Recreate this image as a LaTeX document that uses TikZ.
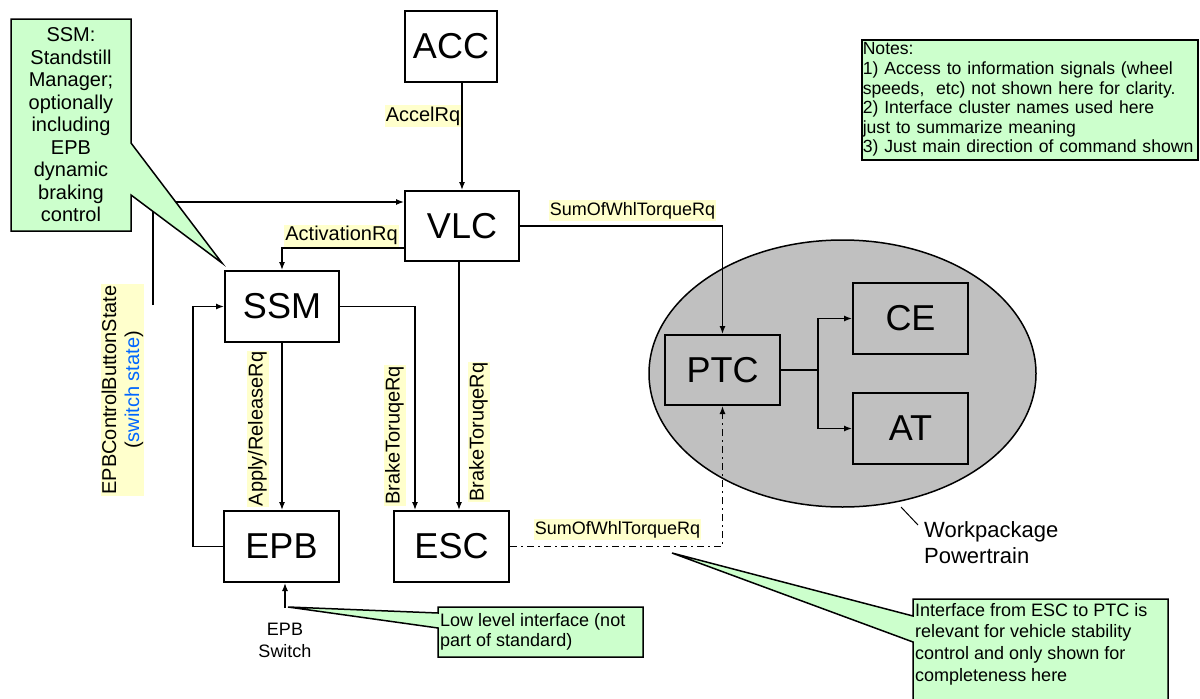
\documentclass[tikz,border=0pt]{standalone}
\usepackage{fontspec}
\setmainfont{Liberation Sans}
\usetikzlibrary{arrows.meta,shapes.geometric}
\definecolor{calloutgreen}{RGB}{204,255,204}
\definecolor{labelyellow}{RGB}{255,255,204}
\definecolor{wpgray}{RGB}{192,192,192}
\definecolor{switchblue}{RGB}{0,102,255}
\tikzset{
  blockbox/.style={draw=black, line width=2pt, fill=white, inner sep=0pt,
    minimum width=115pt, minimum height=71pt, font=\fontsize{36}{40}\selectfont},
  arr/.style={line width=1.3pt, -{Latex[length=8pt,width=6pt]}},
  conn/.style={line width=1.3pt},
  sigl/.style={fill=labelyellow, inner xsep=1pt, inner ysep=1pt,
    text height=15pt, text depth=5pt, font=\fontsize{20}{22}\selectfont},
  sigs/.style={fill=labelyellow, inner xsep=1pt, inner ysep=1.5pt,
    text height=14pt, text depth=4.5pt, font=\fontsize{18}{20}\selectfont},
  calloutshape/.style={draw=black, line width=1.5pt, fill=calloutgreen, line join=miter},
  notetext/.style={inner sep=0pt, align=left, font=\fontsize{18}{20}\selectfont},
}
\begin{document}
\begin{tikzpicture}[x=1pt,y=-1pt]
\useasboundingbox (0,0) rectangle (1200,699);

% Powertrain workpackage ellipse
\node[ellipse, draw=black, line width=1.5pt, fill=wpgray, inner sep=0pt,
  minimum width=387pt, minimum height=267pt] (WP) at (842.5,373.5) {};

% blocks
\node[blockbox, minimum width=92pt] (ACC) at (451,46.5) {ACC};
\node[blockbox, minimum width=114pt, minimum height=70pt] (VLC) at (462,226) {VLC};
\node[blockbox, minimum width=114pt] (SSM) at (282,306.5) {SSM};
\node[blockbox] (EPB) at (281.5,546.5) {EPB};
\node[blockbox] (ESC) at (451.5,546.5) {ESC};
\node[blockbox, fill=wpgray, minimum height=70pt] (PTC) at (722.5,370) {PTC};
\node[blockbox, fill=wpgray] (CE) at (910.5,318.5) {CE};
\node[blockbox, fill=wpgray] (AT) at (910.5,428.5) {AT};

% connectors
\draw[arr] (ACC.south -| VLC.north) -- (VLC.north);
\coordinate (bs) at (153,305);
\draw[arr] (bs) |- ([yshift=24pt]VLC.west);
\draw[arr] ([yshift=-22pt]VLC.west) -| (SSM.north);
\draw[arr] ([xshift=-3pt]VLC.south) -- ([xshift=-3pt]VLC.south |- ESC.north);
\draw[arr] (SSM.east) -| ([xshift=-36.5pt]ESC.north);
\draw[arr] (SSM.south) -- (SSM.south |- EPB.north);
\draw[arr] (EPB.west) -- ([xshift=-30pt]EPB.west) |- (SSM.west);
\draw[arr] (VLC.east) -| (PTC.north);
\coordinate (br) at ([xshift=37pt]PTC.east);
\draw[conn] (PTC.east) -- (br);
\draw[arr] (br) |- (CE.west);
\draw[arr] (br) |- (AT.west);
\draw[arr, dash pattern=on 7pt off 4pt on 2pt off 4pt] (ESC.east) -| (PTC.south);
\coordinate (sw) at (285,608);
\draw[arr] (sw) -- (sw |- EPB.south);

% signal labels
\node[sigl] (lAccel) at (423,116) {AccelRq};
\node[sigl] (lAct) at (341.5,235.5) {ActivationRq};
\node[sigs] (lSum1) at (632.5,210.5) {SumOfWhlTorqueRq};
\node[sigs] (lSum2) at (617.5,529.5) {SumOfWhlTorqueRq};
\node[sigl, rotate=90] (lApp) at (257.5,429) {Apply/ReleaseRq};
\node[sigl, rotate=90] (lBrk1) at (394.5,435.5) {BrakeToruqeRq};
\node[sigl, rotate=90] (lBrk2) at (478.5,432) {BrakeToruqeRq};
\node[fill=labelyellow, inner xsep=1pt, inner ysep=1pt, rotate=90, align=center,
  font=\fontsize{20}{23}\selectfont] (lBtn) at (122.5,390)
  {EPBControlButtonState\\(\textcolor{switchblue}{switch state})};

% EPB switch text
\node[align=center, inner sep=0pt, font=\fontsize{18}{22}\selectfont, anchor=north]
  (swtxt) at (285,623) {EPB\\Switch};

% Workpackage label
\coordinate (wpa) at (901,507);
\coordinate (wpb) at (918,525);
\draw[line width=1pt] (wpa) -- (wpb);
\node[anchor=north west, inner sep=0pt, align=left, font=\fontsize{22}{26}\selectfont]
  (wptxt) at (924,521) {Workpackage\\Powertrain};

% Notes box
\node[draw=black, line width=1.5pt, fill=calloutgreen, anchor=north west,
  minimum width=336pt, minimum height=120pt, text width=334pt, inner sep=1pt,
  align=left, font=\fontsize{17.6}{19.6}\selectfont] (notes) at (861,39)
  {Notes:\\1) Access to information signals (wheel\\speeds,\ \ etc) not shown here for clarity.\\2) Interface cluster names used here\\just to summarize meaning\\3) Just main direction of command shown};

% callout: SSM description
\draw[calloutshape] (11,19) -- (131,19) -- (131,143) -- (222,263) -- (131,195)
  -- (131,231) -- (11,231) -- cycle;
\node[inner sep=0pt, align=center, font=\fontsize{20}{22.5}\selectfont] (c1txt) at (71,125)
  {SSM:\\Standstill\\Manager;\\optionally\\including\\EPB\\dynamic\\braking\\control};

% callout: low level interface
\draw[calloutshape] (438,607) -- (643,607) -- (643,657) -- (438,657) -- (438,628)
  -- (288,607) -- (438,613) -- cycle;
\node[notetext, anchor=west] (c2txt) at (440,632)
  {Low level interface (not\\part of standard)};

% callout: ESC to PTC interface
\draw[calloutshape] (913,599) -- (1168,599) -- (1168,720) -- (913,720) -- (913,642)
  -- (672,553) -- (913,616) -- cycle;
\node[notetext, anchor=north west, font=\fontsize{18}{21.7}\selectfont] (c3txt) at (915,603)
  {Interface from ESC to PTC is\\relevant for vehicle stability\\control and only shown for\\completeness here};
\end{tikzpicture}
\end{document}
